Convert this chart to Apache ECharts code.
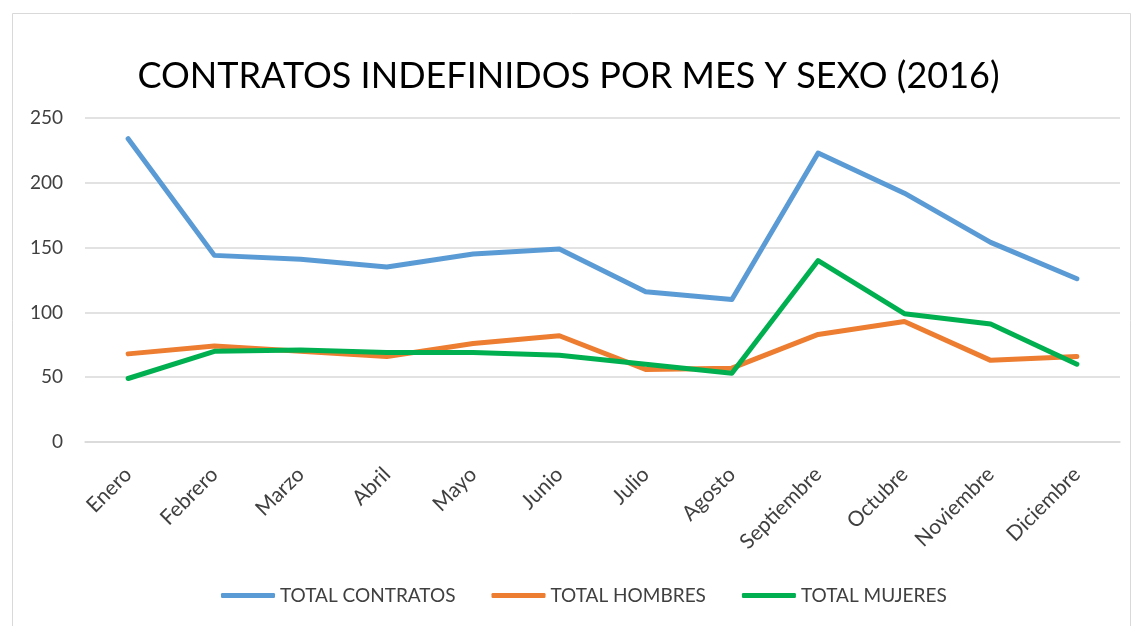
<!DOCTYPE html>
<html>
<head>
<meta charset="utf-8">
<script src="https://cdn.jsdelivr.net/npm/echarts@6/dist/echarts.min.js"></script>
<style>
  html, body { margin: 0; padding: 0; background: #fff; }
  #chart { width: 1137px; height: 626px; }
</style>
</head>
<body>
<div id="chart"></div>
<script>
// meses
const months = ['Enero', 'Febrero', 'Marzo', 'Abril', 'Mayo', 'Junio', 'Julio',
  'Agosto', 'Septiembre', 'Octubre', 'Noviembre', 'Diciembre'];

// valores
const totalContratos = [234, 144, 141, 135, 145, 149, 116, 110, 223, 192, 154, 126];
const totalHombres = [68, 74, 70, 66, 76, 82, 56, 57, 83, 93, 63, 66];
const totalMujeres = [49, 70, 71, 69, 69, 67, 60, 53, 140, 99, 91, 60];

const seriesNames = ['TOTAL CONTRATOS', 'TOTAL HOMBRES', 'TOTAL MUJERES'];
const colors = ['#5B9BD5', '#ED7D31', '#00B050'];

const font = 'Lato, "Open Sans", sans-serif';
const textColor = '#404040';

const chart = echarts.init(document.getElementById('chart'));

const lineSeries = (name, data) => ({
  name: name,
  type: 'line',
  data: data,
  symbol: 'none',
  lineStyle: { width: 5, cap: 'round', join: 'round' },
  animation: false,
});

const option = {
  color: colors,
  backgroundColor: '#fff',
  graphic: [
    {
      type: 'rect',
      shape: { x: 12.5, y: 13.5, width: 1118, height: 640 },
      style: { fill: 'none', stroke: '#d9d9d9', lineWidth: 1 },
      silent: true,
    },
  ],
  title: {
    text: 'CONTRATOS INDEFINIDOS POR MES Y SEXO (2016)',
    left: 'center',
    top: 53,
    textStyle: { fontFamily: font, fontSize: 36, fontWeight: 'normal', color: '#000' },
  },
  legend: {
    data: seriesNames,
    bottom: 16,
    left: 216,
    itemWidth: 54,
    itemHeight: 5,
    itemGap: 36,
    icon: 'roundRect',
    textStyle: { fontFamily: font, fontSize: 19, color: textColor },
  },
  grid: {
    left: 85,
    right: 17,
    top: 118,
    bottom: 184,
  },
  xAxis: {
    type: 'category',
    data: months,
    boundaryGap: true,
    axisTick: { show: false },
    axisLine: { lineStyle: { color: '#d9d9d9', width: 1.5 } },
    axisLabel: {
      rotate: 45,
      interval: 0,
      margin: 29,
      fontFamily: font,
      fontSize: 21,
      color: textColor,
    },
  },
  yAxis: {
    type: 'value',
    min: 0,
    max: 250,
    interval: 50,
    axisLine: { show: false },
    axisTick: { show: false },
    splitLine: { lineStyle: { color: '#d9d9d9', width: 1.5 } },
    axisLabel: {
      margin: 22,
      fontFamily: font,
      fontSize: 19,
      color: textColor,
    },
  },
  series: [
    lineSeries(seriesNames[0], totalContratos),
    lineSeries(seriesNames[1], totalHombres),
    lineSeries(seriesNames[2], totalMujeres),
  ],
};

chart.setOption(option);
</script>
</body>
</html>
